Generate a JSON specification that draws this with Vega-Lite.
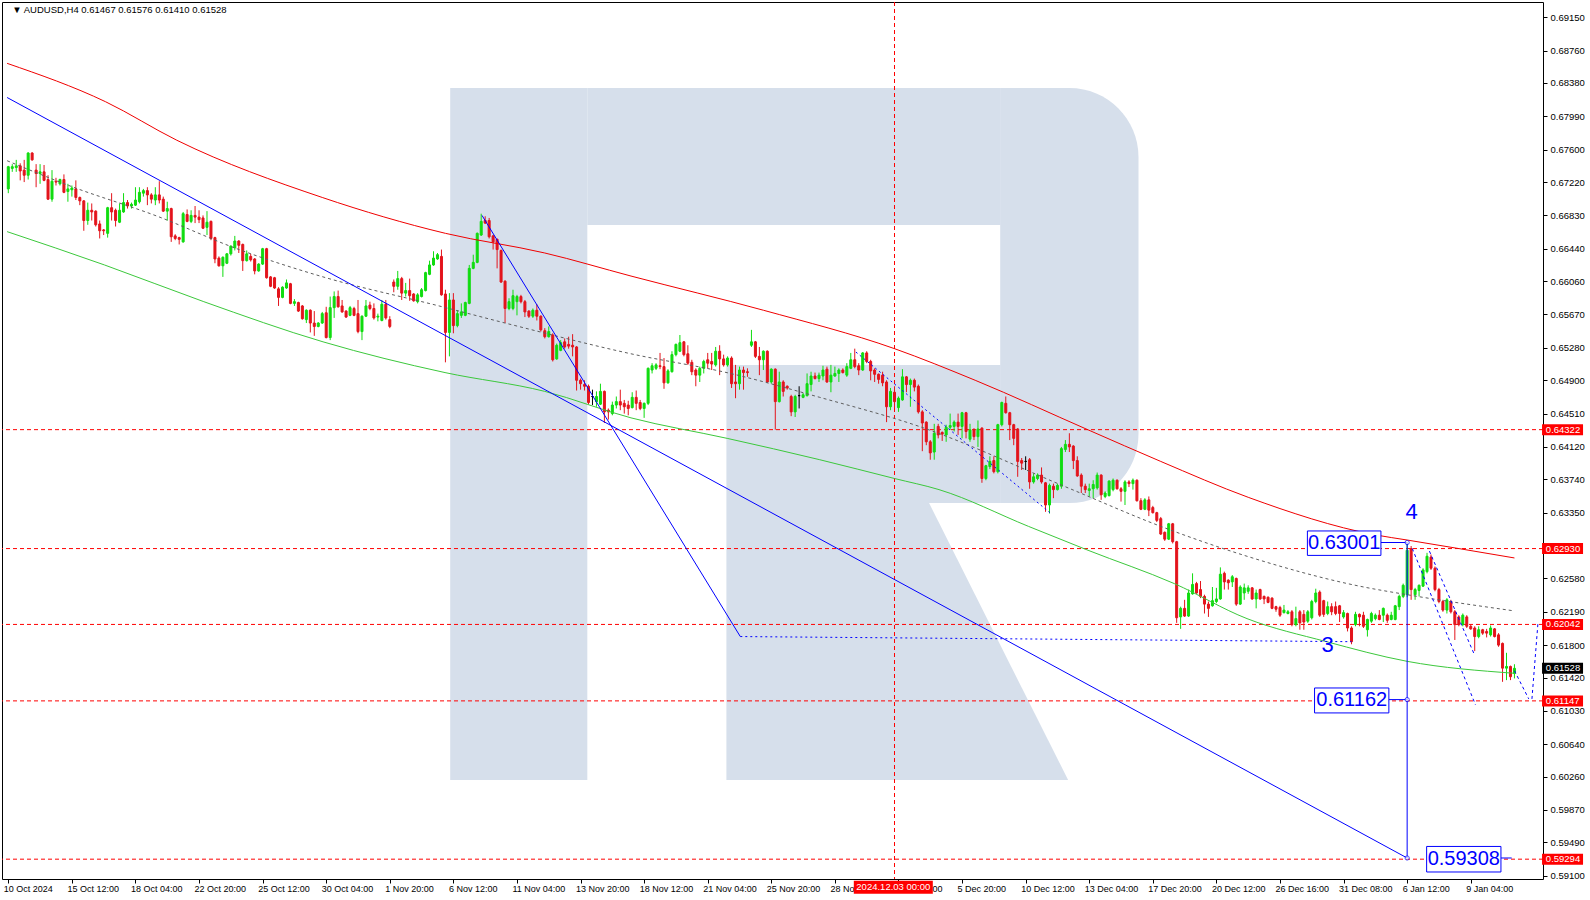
{
"$schema": "https://vega.github.io/schema/vega-lite/v6.json",
"width": 1541, "height": 877,
"autosize": {"type": "none"},
"padding": {"left": 2, "top": 2, "right": 47, "bottom": 21},
"background": "#ffffff",
"view": {"stroke": "#000000", "strokeWidth": 1},
"datasets": {
"candles": [
{"t":0,"o":0.6714,"h":0.6741,"l":0.6709,"c":0.674},
{"t":1,"o":0.6738,"h":0.6743,"l":0.6734,"c":0.674},
{"t":2,"o":0.6739,"h":0.6748,"l":0.6734,"c":0.6741},
{"t":3,"o":0.6741,"h":0.6744,"l":0.6724,"c":0.6735},
{"t":4,"o":0.6736,"h":0.6748,"l":0.6722,"c":0.673},
{"t":5,"o":0.673,"h":0.6757,"l":0.6725,"c":0.6756},
{"t":6,"o":0.6756,"h":0.6757,"l":0.6747,"c":0.6748},
{"t":7,"o":0.6736,"h":0.6743,"l":0.6716,"c":0.6732},
{"t":8,"o":0.6732,"h":0.6743,"l":0.672,"c":0.6734},
{"t":9,"o":0.6734,"h":0.6742,"l":0.6723,"c":0.6724},
{"t":10,"o":0.6725,"h":0.673,"l":0.6701,"c":0.6702},
{"t":11,"o":0.6702,"h":0.6736,"l":0.6699,"c":0.6723},
{"t":12,"o":0.6723,"h":0.6727,"l":0.6718,"c":0.6722},
{"t":13,"o":0.672,"h":0.6726,"l":0.6718,"c":0.6725},
{"t":14,"o":0.6725,"h":0.6731,"l":0.6709,"c":0.671},
{"t":15,"o":0.6711,"h":0.672,"l":0.6699,"c":0.6714},
{"t":16,"o":0.6713,"h":0.6718,"l":0.6705,"c":0.6715},
{"t":17,"o":0.6714,"h":0.6724,"l":0.6701,"c":0.6704},
{"t":18,"o":0.6704,"h":0.6705,"l":0.6695,"c":0.67},
{"t":19,"o":0.67,"h":0.6701,"l":0.6665,"c":0.6677},
{"t":20,"o":0.6677,"h":0.6698,"l":0.6672,"c":0.6689},
{"t":21,"o":0.6689,"h":0.6697,"l":0.6677,"c":0.6687},
{"t":22,"o":0.6688,"h":0.6689,"l":0.667,"c":0.6672},
{"t":23,"o":0.6673,"h":0.6677,"l":0.6656,"c":0.6665},
{"t":24,"o":0.6666,"h":0.6667,"l":0.666,"c":0.6665},
{"t":25,"o":0.6662,"h":0.6693,"l":0.6657,"c":0.6692},
{"t":26,"o":0.6692,"h":0.6709,"l":0.6677,"c":0.6687},
{"t":27,"o":0.6689,"h":0.6691,"l":0.667,"c":0.6677},
{"t":28,"o":0.6675,"h":0.6697,"l":0.6674,"c":0.6689},
{"t":29,"o":0.6687,"h":0.6709,"l":0.6686,"c":0.6698},
{"t":30,"o":0.6698,"h":0.6701,"l":0.6691,"c":0.6694},
{"t":31,"o":0.6694,"h":0.6698,"l":0.6691,"c":0.6696},
{"t":32,"o":0.6695,"h":0.6716,"l":0.6694,"c":0.6701},
{"t":33,"o":0.6699,"h":0.6716,"l":0.6697,"c":0.671},
{"t":34,"o":0.6709,"h":0.6714,"l":0.6705,"c":0.6712},
{"t":35,"o":0.6712,"h":0.6716,"l":0.6695,"c":0.6707},
{"t":36,"o":0.6707,"h":0.6709,"l":0.6697,"c":0.6702},
{"t":37,"o":0.6701,"h":0.6716,"l":0.6695,"c":0.6707},
{"t":38,"o":0.6707,"h":0.6723,"l":0.6697,"c":0.6701},
{"t":39,"o":0.6702,"h":0.6705,"l":0.6687,"c":0.6688},
{"t":40,"o":0.6688,"h":0.6699,"l":0.6677,"c":0.6691},
{"t":41,"o":0.6691,"h":0.6692,"l":0.6652,"c":0.6658},
{"t":42,"o":0.6659,"h":0.6661,"l":0.6654,"c":0.6656},
{"t":43,"o":0.6657,"h":0.6658,"l":0.6649,"c":0.6655},
{"t":44,"o":0.6652,"h":0.6687,"l":0.6651,"c":0.6685},
{"t":45,"o":0.6684,"h":0.669,"l":0.6675,"c":0.6676},
{"t":46,"o":0.6676,"h":0.6689,"l":0.6674,"c":0.6683},
{"t":47,"o":0.6683,"h":0.6694,"l":0.6674,"c":0.6681},
{"t":48,"o":0.6681,"h":0.6689,"l":0.6674,"c":0.6678},
{"t":49,"o":0.668,"h":0.6683,"l":0.6667,"c":0.6668},
{"t":50,"o":0.6669,"h":0.6688,"l":0.666,"c":0.6675},
{"t":51,"o":0.6676,"h":0.6677,"l":0.6654,"c":0.6656},
{"t":52,"o":0.6657,"h":0.6658,"l":0.6627,"c":0.6632},
{"t":53,"o":0.6633,"h":0.6635,"l":0.6623,"c":0.6624},
{"t":54,"o":0.6624,"h":0.6635,"l":0.6611,"c":0.6634},
{"t":55,"o":0.6627,"h":0.6639,"l":0.6626,"c":0.6638},
{"t":56,"o":0.6638,"h":0.6648,"l":0.6636,"c":0.6647},
{"t":57,"o":0.6645,"h":0.6659,"l":0.6642,"c":0.6653},
{"t":58,"o":0.6653,"h":0.6654,"l":0.6639,"c":0.6648},
{"t":59,"o":0.6649,"h":0.665,"l":0.6618,"c":0.663},
{"t":60,"o":0.663,"h":0.6642,"l":0.6629,"c":0.6638},
{"t":61,"o":0.6635,"h":0.6638,"l":0.6629,"c":0.6631},
{"t":62,"o":0.6632,"h":0.6633,"l":0.6614,"c":0.6618},
{"t":63,"o":0.6618,"h":0.6627,"l":0.6617,"c":0.6626},
{"t":64,"o":0.6626,"h":0.6645,"l":0.6625,"c":0.6644},
{"t":65,"o":0.6644,"h":0.6645,"l":0.6609,"c":0.661},
{"t":66,"o":0.6611,"h":0.6612,"l":0.6599,"c":0.66},
{"t":67,"o":0.661,"h":0.6611,"l":0.6597,"c":0.6598},
{"t":68,"o":0.6597,"h":0.6599,"l":0.6577,"c":0.6587},
{"t":69,"o":0.6587,"h":0.66,"l":0.6586,"c":0.6599},
{"t":70,"o":0.6598,"h":0.6608,"l":0.6597,"c":0.6604},
{"t":71,"o":0.6603,"h":0.6604,"l":0.6579,"c":0.658},
{"t":72,"o":0.658,"h":0.6585,"l":0.6577,"c":0.6582},
{"t":73,"o":0.6581,"h":0.6582,"l":0.657,"c":0.6571},
{"t":74,"o":0.6577,"h":0.6578,"l":0.6561,"c":0.6562},
{"t":75,"o":0.6561,"h":0.6573,"l":0.6557,"c":0.6572},
{"t":76,"o":0.6572,"h":0.6573,"l":0.6546,"c":0.6557},
{"t":77,"o":0.6557,"h":0.6571,"l":0.6542,"c":0.6553},
{"t":78,"o":0.6553,"h":0.6558,"l":0.6552,"c":0.6557},
{"t":79,"o":0.6557,"h":0.657,"l":0.6556,"c":0.6568},
{"t":80,"o":0.6569,"h":0.6576,"l":0.6539,"c":0.654},
{"t":81,"o":0.654,"h":0.6588,"l":0.6537,"c":0.6575},
{"t":82,"o":0.6575,"h":0.6594,"l":0.6563,"c":0.6588},
{"t":83,"o":0.6588,"h":0.6595,"l":0.6575,"c":0.6576},
{"t":84,"o":0.6577,"h":0.6584,"l":0.6569,"c":0.657},
{"t":85,"o":0.6571,"h":0.6572,"l":0.6563,"c":0.6564},
{"t":86,"o":0.6566,"h":0.6577,"l":0.6565,"c":0.6575},
{"t":87,"o":0.6574,"h":0.6576,"l":0.6565,"c":0.6566},
{"t":88,"o":0.6568,"h":0.6584,"l":0.6545,"c":0.6547},
{"t":89,"o":0.6547,"h":0.6566,"l":0.6537,"c":0.6565},
{"t":90,"o":0.6565,"h":0.6584,"l":0.6564,"c":0.6577},
{"t":91,"o":0.6578,"h":0.6582,"l":0.6572,"c":0.6574},
{"t":92,"o":0.6574,"h":0.658,"l":0.6561,"c":0.6563},
{"t":93,"o":0.6564,"h":0.6568,"l":0.6559,"c":0.6565},
{"t":94,"o":0.656,"h":0.6584,"l":0.6559,"c":0.6579},
{"t":95,"o":0.6579,"h":0.6584,"l":0.6561,"c":0.6563},
{"t":96,"o":0.6561,"h":0.6565,"l":0.6551,"c":0.6553},
{"t":97,"o":0.6605,"h":0.6608,"l":0.6593,"c":0.66},
{"t":98,"o":0.66,"h":0.6618,"l":0.6596,"c":0.6609},
{"t":99,"o":0.6609,"h":0.6611,"l":0.6584,"c":0.6592},
{"t":100,"o":0.6592,"h":0.6604,"l":0.6588,"c":0.6595},
{"t":101,"o":0.6595,"h":0.6609,"l":0.6583,"c":0.6589},
{"t":102,"o":0.6591,"h":0.6592,"l":0.6582,"c":0.6583},
{"t":103,"o":0.6582,"h":0.6592,"l":0.658,"c":0.659},
{"t":104,"o":0.6588,"h":0.6598,"l":0.6587,"c":0.6596},
{"t":105,"o":0.6595,"h":0.6617,"l":0.6594,"c":0.6616},
{"t":106,"o":0.6614,"h":0.663,"l":0.6613,"c":0.6625},
{"t":107,"o":0.6625,"h":0.6641,"l":0.6624,"c":0.6633},
{"t":108,"o":0.6632,"h":0.6639,"l":0.6631,"c":0.6637},
{"t":109,"o":0.6635,"h":0.6643,"l":0.6589,"c":0.659},
{"t":110,"o":0.6591,"h":0.6596,"l":0.6511,"c":0.6546},
{"t":111,"o":0.6546,"h":0.6592,"l":0.6518,"c":0.6584},
{"t":112,"o":0.6584,"h":0.6592,"l":0.6545,"c":0.6554},
{"t":113,"o":0.6554,"h":0.6572,"l":0.6552,"c":0.6568},
{"t":114,"o":0.6566,"h":0.658,"l":0.6563,"c":0.657},
{"t":115,"o":0.6566,"h":0.6582,"l":0.6565,"c":0.6581},
{"t":116,"o":0.658,"h":0.6625,"l":0.6579,"c":0.6621},
{"t":117,"o":0.6621,"h":0.6637,"l":0.662,"c":0.6628},
{"t":118,"o":0.6628,"h":0.6663,"l":0.6627,"c":0.6662},
{"t":119,"o":0.666,"h":0.6685,"l":0.6659,"c":0.6676},
{"t":120,"o":0.6677,"h":0.6682,"l":0.6673,"c":0.6674},
{"t":121,"o":0.6677,"h":0.668,"l":0.6656,"c":0.6658},
{"t":122,"o":0.6659,"h":0.666,"l":0.6643,"c":0.6652},
{"t":123,"o":0.6655,"h":0.6656,"l":0.6621,"c":0.6643},
{"t":124,"o":0.6642,"h":0.6643,"l":0.6604,"c":0.6605},
{"t":125,"o":0.6606,"h":0.6607,"l":0.6557,"c":0.6574},
{"t":126,"o":0.6574,"h":0.6586,"l":0.6572,"c":0.6582},
{"t":127,"o":0.6574,"h":0.6596,"l":0.6572,"c":0.6589},
{"t":128,"o":0.6582,"h":0.659,"l":0.6566,"c":0.6588},
{"t":129,"o":0.6588,"h":0.659,"l":0.658,"c":0.6582},
{"t":130,"o":0.6582,"h":0.6584,"l":0.6564,"c":0.657},
{"t":131,"o":0.6571,"h":0.6572,"l":0.6563,"c":0.6565},
{"t":132,"o":0.6565,"h":0.6574,"l":0.6563,"c":0.6572},
{"t":133,"o":0.6572,"h":0.6579,"l":0.656,"c":0.6565},
{"t":134,"o":0.6565,"h":0.6566,"l":0.6547,"c":0.6549},
{"t":135,"o":0.6548,"h":0.6551,"l":0.6539,"c":0.6541},
{"t":136,"o":0.6541,"h":0.6553,"l":0.654,"c":0.6547},
{"t":137,"o":0.6543,"h":0.6545,"l":0.6512,"c":0.6514},
{"t":138,"o":0.6515,"h":0.6533,"l":0.6514,"c":0.6531},
{"t":139,"o":0.6525,"h":0.6537,"l":0.6524,"c":0.6534},
{"t":140,"o":0.6535,"h":0.6539,"l":0.6527,"c":0.6529},
{"t":141,"o":0.6532,"h":0.6541,"l":0.6527,"c":0.653},
{"t":142,"o":0.6531,"h":0.6544,"l":0.6518,"c":0.6529},
{"t":143,"o":0.6529,"h":0.653,"l":0.6478,"c":0.649},
{"t":144,"o":0.649,"h":0.6492,"l":0.6479,"c":0.6486},
{"t":145,"o":0.6485,"h":0.649,"l":0.6478,"c":0.6483},
{"t":146,"o":0.6483,"h":0.6485,"l":0.6462,"c":0.6464},
{"t":147,"o":0.6471,"h":0.6479,"l":0.6461,"c":0.6471},
{"t":148,"o":0.6465,"h":0.6477,"l":0.6459,"c":0.6471},
{"t":149,"o":0.6462,"h":0.6486,"l":0.6461,"c":0.6477},
{"t":150,"o":0.6477,"h":0.6478,"l":0.644,"c":0.6453},
{"t":151,"o":0.6455,"h":0.6457,"l":0.6444,"c":0.6453},
{"t":152,"o":0.6451,"h":0.6465,"l":0.6449,"c":0.6461},
{"t":153,"o":0.6461,"h":0.6471,"l":0.6457,"c":0.6465},
{"t":154,"o":0.6465,"h":0.6479,"l":0.6455,"c":0.6461},
{"t":155,"o":0.6463,"h":0.6467,"l":0.6451,"c":0.6459},
{"t":156,"o":0.6461,"h":0.6466,"l":0.6449,"c":0.6457},
{"t":157,"o":0.6458,"h":0.6476,"l":0.6457,"c":0.647},
{"t":158,"o":0.647,"h":0.6478,"l":0.6455,"c":0.6463},
{"t":159,"o":0.6464,"h":0.6467,"l":0.6455,"c":0.6457},
{"t":160,"o":0.6457,"h":0.6464,"l":0.6446,"c":0.6463},
{"t":161,"o":0.6463,"h":0.6505,"l":0.6461,"c":0.6504},
{"t":162,"o":0.6502,"h":0.651,"l":0.6498,"c":0.6507},
{"t":163,"o":0.6504,"h":0.651,"l":0.6502,"c":0.6508},
{"t":164,"o":0.6507,"h":0.6522,"l":0.6503,"c":0.6506},
{"t":165,"o":0.6506,"h":0.6516,"l":0.648,"c":0.6487},
{"t":166,"o":0.6487,"h":0.6503,"l":0.6486,"c":0.6501},
{"t":167,"o":0.65,"h":0.6524,"l":0.6499,"c":0.652},
{"t":168,"o":0.652,"h":0.6533,"l":0.6518,"c":0.6532},
{"t":169,"o":0.6524,"h":0.6543,"l":0.6523,"c":0.6534},
{"t":170,"o":0.6535,"h":0.6536,"l":0.6518,"c":0.652},
{"t":171,"o":0.6521,"h":0.6531,"l":0.6508,"c":0.651},
{"t":172,"o":0.6511,"h":0.6514,"l":0.6496,"c":0.65},
{"t":173,"o":0.6502,"h":0.6504,"l":0.6483,"c":0.6496},
{"t":174,"o":0.6496,"h":0.6506,"l":0.6488,"c":0.6504},
{"t":175,"o":0.6504,"h":0.6514,"l":0.6498,"c":0.6512},
{"t":176,"o":0.6514,"h":0.6522,"l":0.6504,"c":0.651},
{"t":177,"o":0.6512,"h":0.6522,"l":0.6502,"c":0.6509},
{"t":178,"o":0.6508,"h":0.6529,"l":0.6506,"c":0.6524},
{"t":179,"o":0.6524,"h":0.6531,"l":0.6496,"c":0.6515},
{"t":180,"o":0.6515,"h":0.652,"l":0.6506,"c":0.6508},
{"t":181,"o":0.6508,"h":0.6518,"l":0.6506,"c":0.6516},
{"t":182,"o":0.6516,"h":0.6518,"l":0.6481,"c":0.6486},
{"t":183,"o":0.6488,"h":0.6508,"l":0.6469,"c":0.6486},
{"t":184,"o":0.6486,"h":0.6506,"l":0.6479,"c":0.6502},
{"t":185,"o":0.6502,"h":0.6506,"l":0.6479,"c":0.6499},
{"t":186,"o":0.65,"h":0.6504,"l":0.6494,"c":0.6499},
{"t":187,"o":0.6531,"h":0.6549,"l":0.6529,"c":0.6535},
{"t":188,"o":0.6535,"h":0.6536,"l":0.6516,"c":0.6518},
{"t":189,"o":0.6518,"h":0.6529,"l":0.6496,"c":0.6514},
{"t":190,"o":0.6514,"h":0.6525,"l":0.6502,"c":0.6524},
{"t":191,"o":0.6524,"h":0.6525,"l":0.6487,"c":0.6488},
{"t":192,"o":0.6488,"h":0.6504,"l":0.6486,"c":0.6503},
{"t":193,"o":0.6503,"h":0.6504,"l":0.64322,"c":0.6465},
{"t":194,"o":0.6465,"h":0.65,"l":0.6464,"c":0.6488},
{"t":195,"o":0.6488,"h":0.649,"l":0.6471,"c":0.6477},
{"t":196,"o":0.6483,"h":0.6484,"l":0.6479,"c":0.6481},
{"t":197,"o":0.6471,"h":0.6473,"l":0.6448,"c":0.6453},
{"t":198,"o":0.6453,"h":0.6473,"l":0.6447,"c":0.6471},
{"t":199,"o":0.6472,"h":0.6483,"l":0.6457,"c":0.6472},
{"t":200,"o":0.647,"h":0.6475,"l":0.6469,"c":0.6473},
{"t":201,"o":0.6472,"h":0.6498,"l":0.6471,"c":0.6486},
{"t":202,"o":0.6485,"h":0.65,"l":0.6477,"c":0.6495},
{"t":203,"o":0.6495,"h":0.6499,"l":0.6491,"c":0.6492},
{"t":204,"o":0.6492,"h":0.6499,"l":0.6488,"c":0.6496},
{"t":205,"o":0.6495,"h":0.6507,"l":0.649,"c":0.6502},
{"t":206,"o":0.6503,"h":0.6506,"l":0.6487,"c":0.6488},
{"t":207,"o":0.6488,"h":0.6508,"l":0.6476,"c":0.6496},
{"t":208,"o":0.6495,"h":0.6506,"l":0.6494,"c":0.6498},
{"t":209,"o":0.6498,"h":0.6504,"l":0.6488,"c":0.6502},
{"t":210,"o":0.6502,"h":0.6504,"l":0.6498,"c":0.6499},
{"t":211,"o":0.6496,"h":0.651,"l":0.6494,"c":0.6506},
{"t":212,"o":0.6504,"h":0.6522,"l":0.6503,"c":0.6514},
{"t":213,"o":0.6514,"h":0.6527,"l":0.6504,"c":0.6506},
{"t":214,"o":0.6507,"h":0.651,"l":0.6496,"c":0.6502},
{"t":215,"o":0.6502,"h":0.6523,"l":0.6501,"c":0.6522},
{"t":216,"o":0.6522,"h":0.6524,"l":0.651,"c":0.6512},
{"t":217,"o":0.6512,"h":0.6514,"l":0.649,"c":0.6501},
{"t":218,"o":0.6502,"h":0.6504,"l":0.6488,"c":0.6497},
{"t":219,"o":0.6497,"h":0.6498,"l":0.6486,"c":0.6491},
{"t":220,"o":0.6496,"h":0.65,"l":0.6483,"c":0.6487},
{"t":221,"o":0.6488,"h":0.649,"l":0.6441,"c":0.6459},
{"t":222,"o":0.6459,"h":0.6481,"l":0.6455,"c":0.6477},
{"t":223,"o":0.6476,"h":0.6483,"l":0.6457,"c":0.6465},
{"t":224,"o":0.6458,"h":0.6471,"l":0.6453,"c":0.6469},
{"t":225,"o":0.6467,"h":0.6503,"l":0.6466,"c":0.6494},
{"t":226,"o":0.6494,"h":0.6495,"l":0.6476,"c":0.6485},
{"t":227,"o":0.6485,"h":0.6492,"l":0.6459,"c":0.649},
{"t":228,"o":0.649,"h":0.6492,"l":0.6477,"c":0.6482},
{"t":229,"o":0.6483,"h":0.6485,"l":0.6451,"c":0.6453},
{"t":230,"o":0.6453,"h":0.6455,"l":0.6407,"c":0.644},
{"t":231,"o":0.6441,"h":0.6442,"l":0.6414,"c":0.6418},
{"t":232,"o":0.6418,"h":0.642,"l":0.6397,"c":0.6405},
{"t":233,"o":0.6406,"h":0.6439,"l":0.6397,"c":0.6428},
{"t":234,"o":0.6436,"h":0.6439,"l":0.6422,"c":0.6426},
{"t":235,"o":0.6429,"h":0.643,"l":0.6419,"c":0.6427},
{"t":236,"o":0.6426,"h":0.6438,"l":0.6418,"c":0.6435},
{"t":237,"o":0.6435,"h":0.6451,"l":0.6432,"c":0.6437},
{"t":238,"o":0.6436,"h":0.6443,"l":0.643,"c":0.6441},
{"t":239,"o":0.6441,"h":0.6451,"l":0.6426,"c":0.6436},
{"t":240,"o":0.6436,"h":0.6453,"l":0.6422,"c":0.6452},
{"t":241,"o":0.6452,"h":0.6453,"l":0.6422,"c":0.643},
{"t":242,"o":0.6421,"h":0.6439,"l":0.6418,"c":0.6432},
{"t":243,"o":0.6432,"h":0.6434,"l":0.642,"c":0.6424},
{"t":244,"o":0.6424,"h":0.6443,"l":0.6412,"c":0.6433},
{"t":245,"o":0.6434,"h":0.6435,"l":0.637,"c":0.6375},
{"t":246,"o":0.6375,"h":0.6391,"l":0.6373,"c":0.639},
{"t":247,"o":0.6389,"h":0.6401,"l":0.6386,"c":0.6395},
{"t":248,"o":0.6396,"h":0.6401,"l":0.6381,"c":0.6383},
{"t":249,"o":0.6383,"h":0.6439,"l":0.6381,"c":0.6438},
{"t":250,"o":0.6438,"h":0.6465,"l":0.6436,"c":0.6464},
{"t":251,"o":0.6463,"h":0.6471,"l":0.6451,"c":0.6452},
{"t":252,"o":0.6452,"h":0.6453,"l":0.642,"c":0.6438},
{"t":253,"o":0.6438,"h":0.6439,"l":0.6414,"c":0.6422},
{"t":254,"o":0.6433,"h":0.6434,"l":0.6377,"c":0.6395},
{"t":255,"o":0.6396,"h":0.6399,"l":0.6385,"c":0.6393},
{"t":256,"o":0.6395,"h":0.6401,"l":0.6385,"c":0.6395},
{"t":257,"o":0.6397,"h":0.6399,"l":0.6363,"c":0.6371},
{"t":258,"o":0.6371,"h":0.6381,"l":0.6369,"c":0.6377},
{"t":259,"o":0.6375,"h":0.6381,"l":0.6373,"c":0.6379},
{"t":260,"o":0.6379,"h":0.6388,"l":0.6369,"c":0.6371},
{"t":261,"o":0.637,"h":0.6371,"l":0.6336,"c":0.6344},
{"t":262,"o":0.6344,"h":0.6369,"l":0.6334,"c":0.6367},
{"t":263,"o":0.6366,"h":0.6369,"l":0.6352,"c":0.6362},
{"t":264,"o":0.6362,"h":0.6369,"l":0.6361,"c":0.6367},
{"t":265,"o":0.6366,"h":0.6412,"l":0.6363,"c":0.641},
{"t":266,"o":0.6409,"h":0.642,"l":0.6406,"c":0.6415},
{"t":267,"o":0.6415,"h":0.6428,"l":0.6406,"c":0.6412},
{"t":268,"o":0.6413,"h":0.6414,"l":0.6386,"c":0.6396},
{"t":269,"o":0.6396,"h":0.6401,"l":0.6377,"c":0.6378},
{"t":270,"o":0.6379,"h":0.6381,"l":0.6358,"c":0.6366},
{"t":271,"o":0.6366,"h":0.6369,"l":0.6358,"c":0.6362},
{"t":272,"o":0.6361,"h":0.6369,"l":0.6354,"c":0.6363},
{"t":273,"o":0.6363,"h":0.6373,"l":0.6352,"c":0.6368},
{"t":274,"o":0.6364,"h":0.6382,"l":0.6362,"c":0.6379},
{"t":275,"o":0.6379,"h":0.638,"l":0.635,"c":0.6356},
{"t":276,"o":0.6354,"h":0.636,"l":0.6352,"c":0.6358},
{"t":277,"o":0.6355,"h":0.6373,"l":0.6354,"c":0.6372},
{"t":278,"o":0.6362,"h":0.6375,"l":0.636,"c":0.6373},
{"t":279,"o":0.6373,"h":0.6374,"l":0.6362,"c":0.6363},
{"t":280,"o":0.6363,"h":0.6365,"l":0.6348,"c":0.636},
{"t":281,"o":0.636,"h":0.6373,"l":0.6344,"c":0.6371},
{"t":282,"o":0.6371,"h":0.6373,"l":0.6365,"c":0.6369},
{"t":283,"o":0.6369,"h":0.6375,"l":0.6362,"c":0.6373},
{"t":284,"o":0.6373,"h":0.6374,"l":0.6348,"c":0.6349},
{"t":285,"o":0.6349,"h":0.6352,"l":0.6338,"c":0.6339},
{"t":286,"o":0.6339,"h":0.6352,"l":0.6338,"c":0.635},
{"t":287,"o":0.635,"h":0.6354,"l":0.6331,"c":0.6338},
{"t":288,"o":0.6341,"h":0.6343,"l":0.6334,"c":0.6335},
{"t":289,"o":0.6335,"h":0.6336,"l":0.6324,"c":0.6326},
{"t":290,"o":0.6328,"h":0.633,"l":0.6309,"c":0.631},
{"t":291,"o":0.6312,"h":0.6313,"l":0.6302,"c":0.6304},
{"t":292,"o":0.6304,"h":0.6323,"l":0.6303,"c":0.6322},
{"t":293,"o":0.6322,"h":0.6323,"l":0.6299,"c":0.6301},
{"t":294,"o":0.6301,"h":0.6302,"l":0.6206,"c":0.6212},
{"t":295,"o":0.6213,"h":0.6225,"l":0.6199,"c":0.6223},
{"t":296,"o":0.6223,"h":0.6233,"l":0.6213,"c":0.6214},
{"t":297,"o":0.6214,"h":0.6245,"l":0.6213,"c":0.6241},
{"t":298,"o":0.624,"h":0.6264,"l":0.6239,"c":0.6251},
{"t":299,"o":0.6252,"h":0.6254,"l":0.624,"c":0.6241},
{"t":300,"o":0.6245,"h":0.6255,"l":0.6235,"c":0.6237},
{"t":301,"o":0.6237,"h":0.6239,"l":0.6217,"c":0.6228},
{"t":302,"o":0.6228,"h":0.6231,"l":0.6213,"c":0.6223},
{"t":303,"o":0.6226,"h":0.6248,"l":0.6225,"c":0.6232},
{"t":304,"o":0.6231,"h":0.6247,"l":0.6229,"c":0.6234},
{"t":305,"o":0.6234,"h":0.6271,"l":0.6233,"c":0.6263},
{"t":306,"o":0.6264,"h":0.6266,"l":0.6245,"c":0.6254},
{"t":307,"o":0.6256,"h":0.6257,"l":0.6245,"c":0.6253},
{"t":308,"o":0.6254,"h":0.6262,"l":0.6248,"c":0.626},
{"t":309,"o":0.6258,"h":0.6259,"l":0.6226,"c":0.6228},
{"t":310,"o":0.6228,"h":0.625,"l":0.6227,"c":0.6248},
{"t":311,"o":0.6241,"h":0.6252,"l":0.6233,"c":0.6247},
{"t":312,"o":0.6243,"h":0.625,"l":0.624,"c":0.6247},
{"t":313,"o":0.6247,"h":0.6248,"l":0.6233,"c":0.6234},
{"t":314,"o":0.6234,"h":0.6245,"l":0.6223,"c":0.6241},
{"t":315,"o":0.6245,"h":0.6246,"l":0.6233,"c":0.6234},
{"t":316,"o":0.6237,"h":0.6238,"l":0.6228,"c":0.6234},
{"t":317,"o":0.6236,"h":0.6237,"l":0.6229,"c":0.623},
{"t":318,"o":0.6235,"h":0.6236,"l":0.6222,"c":0.6223},
{"t":319,"o":0.6225,"h":0.6226,"l":0.6219,"c":0.6222},
{"t":320,"o":0.6224,"h":0.6226,"l":0.6213,"c":0.6215},
{"t":321,"o":0.6218,"h":0.6227,"l":0.6217,"c":0.6221},
{"t":322,"o":0.6217,"h":0.6221,"l":0.6216,"c":0.6219},
{"t":323,"o":0.6219,"h":0.6221,"l":0.6202,"c":0.6204},
{"t":324,"o":0.6204,"h":0.6225,"l":0.6202,"c":0.6211},
{"t":325,"o":0.6219,"h":0.6221,"l":0.6198,"c":0.6206},
{"t":326,"o":0.6216,"h":0.6221,"l":0.6198,"c":0.6207},
{"t":327,"o":0.6208,"h":0.6221,"l":0.6206,"c":0.6219},
{"t":328,"o":0.6212,"h":0.6233,"l":0.621,"c":0.6231},
{"t":329,"o":0.6231,"h":0.6246,"l":0.6229,"c":0.6241},
{"t":330,"o":0.6242,"h":0.6244,"l":0.6213,"c":0.6215},
{"t":331,"o":0.6232,"h":0.6233,"l":0.6213,"c":0.6216},
{"t":332,"o":0.6217,"h":0.6231,"l":0.6215,"c":0.6225},
{"t":333,"o":0.6225,"h":0.6229,"l":0.6215,"c":0.6219},
{"t":334,"o":0.6225,"h":0.6231,"l":0.6215,"c":0.6217},
{"t":335,"o":0.6226,"h":0.6227,"l":0.6207,"c":0.6217},
{"t":336,"o":0.6213,"h":0.6221,"l":0.6211,"c":0.6218},
{"t":337,"o":0.6217,"h":0.6218,"l":0.6196,"c":0.62},
{"t":338,"o":0.62,"h":0.6202,"l":0.6181,"c":0.6184},
{"t":339,"o":0.6204,"h":0.6219,"l":0.6202,"c":0.6216},
{"t":340,"o":0.6216,"h":0.6217,"l":0.6202,"c":0.6213},
{"t":341,"o":0.6215,"h":0.6219,"l":0.62,"c":0.6202},
{"t":342,"o":0.6198,"h":0.6211,"l":0.619,"c":0.621},
{"t":343,"o":0.6208,"h":0.6219,"l":0.6206,"c":0.6217},
{"t":344,"o":0.6211,"h":0.6217,"l":0.6209,"c":0.6215},
{"t":345,"o":0.6215,"h":0.6221,"l":0.6209,"c":0.621},
{"t":346,"o":0.6215,"h":0.6224,"l":0.6207,"c":0.6223},
{"t":347,"o":0.6215,"h":0.6217,"l":0.6206,"c":0.6209},
{"t":348,"o":0.621,"h":0.6219,"l":0.6209,"c":0.6215},
{"t":349,"o":0.621,"h":0.6227,"l":0.6209,"c":0.6226},
{"t":350,"o":0.6225,"h":0.6239,"l":0.6221,"c":0.6237},
{"t":351,"o":0.6237,"h":0.6252,"l":0.6235,"c":0.625},
{"t":352,"o":0.6239,"h":0.63001,"l":0.6236,"c":0.6291},
{"t":353,"o":0.6293,"h":0.6296,"l":0.6233,"c":0.6245},
{"t":354,"o":0.6239,"h":0.6247,"l":0.6233,"c":0.6245},
{"t":355,"o":0.6244,"h":0.6251,"l":0.6237,"c":0.625},
{"t":356,"o":0.6249,"h":0.627,"l":0.6248,"c":0.6268},
{"t":357,"o":0.6266,"h":0.6288,"l":0.6264,"c":0.6284},
{"t":358,"o":0.6283,"h":0.6286,"l":0.6268,"c":0.627},
{"t":359,"o":0.627,"h":0.6272,"l":0.6243,"c":0.6245},
{"t":360,"o":0.6245,"h":0.6247,"l":0.6229,"c":0.6231},
{"t":361,"o":0.6231,"h":0.6233,"l":0.6219,"c":0.6221},
{"t":362,"o":0.6221,"h":0.6235,"l":0.6217,"c":0.6233},
{"t":363,"o":0.6231,"h":0.6233,"l":0.6217,"c":0.6219},
{"t":364,"o":0.6219,"h":0.6221,"l":0.6186,"c":0.6204},
{"t":365,"o":0.6213,"h":0.6215,"l":0.6202,"c":0.6204},
{"t":366,"o":0.6204,"h":0.6217,"l":0.6202,"c":0.6215},
{"t":367,"o":0.6213,"h":0.6215,"l":0.62,"c":0.6202},
{"t":368,"o":0.6202,"h":0.6204,"l":0.6198,"c":0.6199},
{"t":369,"o":0.62,"h":0.6202,"l":0.6173,"c":0.619},
{"t":370,"o":0.619,"h":0.6202,"l":0.6188,"c":0.6198},
{"t":371,"o":0.6198,"h":0.6199,"l":0.6192,"c":0.6194},
{"t":372,"o":0.6196,"h":0.6199,"l":0.6189,"c":0.6194},
{"t":373,"o":0.6192,"h":0.6203,"l":0.619,"c":0.62},
{"t":374,"o":0.6199,"h":0.62,"l":0.6189,"c":0.619},
{"t":375,"o":0.6192,"h":0.6194,"l":0.6178,"c":0.618},
{"t":376,"o":0.6182,"h":0.6183,"l":0.6137,"c":0.6153},
{"t":377,"o":0.6153,"h":0.6171,"l":0.6139,"c":0.6155},
{"t":378,"o":0.6155,"h":0.6156,"l":0.6139,"c":0.6143},
{"t":379,"o":0.61467,"h":0.61576,"l":0.6141,"c":0.61528}
],
"ma_red": [
{"t":-0.3,"v":0.6861},{"t":24.5,"v":0.6816},{"t":42.4,"v":0.6771},{"t":79,"v":0.6704},{"t":110,"v":0.6662},{"t":135,"v":0.6639},{"t":156.7,"v":0.6612},{"t":190,"v":0.6572},{"t":223,"v":0.6527},{"t":243.3,"v":0.649},{"t":271.7,"v":0.6432},{"t":290,"v":0.6395},{"t":312,"v":0.6353},{"t":344,"v":0.6309},{"t":352,"v":0.6303},{"t":365,"v":0.6293},{"t":379,"v":0.6282}
],
"ma_green": [
{"t":-0.3,"v":0.6664},{"t":24.2,"v":0.6625},{"t":49.2,"v":0.6582},{"t":79.2,"v":0.6535},{"t":109.9,"v":0.6499},{"t":135,"v":0.6477},{"t":156.7,"v":0.6446},{"t":180.9,"v":0.6422},{"t":204.2,"v":0.6397},{"t":223,"v":0.6375},{"t":234.2,"v":0.6362},{"t":256.7,"v":0.6319},{"t":271.7,"v":0.6291},{"t":293.4,"v":0.6252},{"t":311.7,"v":0.6211},{"t":331.7,"v":0.6184},{"t":352,"v":0.6161},{"t":379,"v":0.6147}
],
"ma_gray": [
{"t":-0.3,"v":0.6747},{"t":15.8,"v":0.6717},{"t":37.5,"v":0.6682},{"t":57.5,"v":0.6644},{"t":79.2,"v":0.6611},{"t":108.4,"v":0.6577},{"t":126.7,"v":0.6555},{"t":156.7,"v":0.6521},{"t":181.7,"v":0.6498},{"t":204.2,"v":0.647},{"t":229.2,"v":0.6436},{"t":266.7,"v":0.6364},{"t":290,"v":0.6319},{"t":311.7,"v":0.6284},{"t":340,"v":0.6249},{"t":352,"v":0.6239},{"t":379,"v":0.622}
],
"trend": [
{"x1":-0.3,"y1":0.6821,"x2":352,"y2":0.59308},
{"x1":119.2,"y1":0.6683,"x2":184.2,"y2":0.619},
{"x1":352,"y1":0.63001,"x2":352,"y2":0.59308},
{"x1":345.4,"y1":0.63001,"x2":352,"y2":0.63001},
{"x1":347.4,"y1":0.61162,"x2":352,"y2":0.61162},
{"x1":375.6,"y1":0.59308,"x2":378.3,"y2":0.59308}
],
"dotted": [
{"x1":213.3,"y1":0.6523,"x2":262.1,"y2":0.6335},
{"x1":184.2,"y1":0.619,"x2":338,"y2":0.6184}
],
"proj": [
{"x1":353.3,"y1":0.6293,"x2":369.2,"y2":0.611},
{"x1":357.6,"y1":0.629,"x2":369,"y2":0.6168},
{"x1":379,"y1":0.615,"x2":382.6,"y2":0.6117},
{"x1":383.4,"y1":0.6117,"x2":384.9,"y2":0.6205}
],
"marks": [
{"x":352,"y":0.63001},{"x":352,"y":0.61162},{"x":352,"y":0.59308}
],
"boxes": [
{"label":"0.63001","x1":326.9,"x2":345.4,"lo":0.6285,"hi":0.63136,"xm":336.15,"ym":0.62993},
{"label":"0.61162","x1":328.7,"x2":347.4,"lo":0.61006,"hi":0.61298,"xm":338.05,"ym":0.61152},
{"label":"0.59308","x1":356.9,"x2":375.6,"lo":0.59144,"hi":0.59443,"xm":366.25,"ym":0.59293}
],
"waves": [
{"label":"4","x":353.1,"y":0.6336},
{"label":"3","x":332,"y":0.61806}
],
"levels": [
{"p":0.64322},{"p":0.6293},{"p":0.62042},{"p":0.61147},{"p":0.59294}
],
"logo": [
{"x1":111.2,"x2":145.7,"y1":0.6022,"y2":0.68321},
{"x1":145.7,"x2":249.7,"y1":0.66717,"y2":0.68321},
{"x1":180.7,"x2":249.7,"y1":0.63463,"y2":0.65078}
],
"leg": [
{"x":180.7,"top":0.63463,"bot":0.6022},
{"x":231.7,"top":0.63463,"bot":0.6022},
{"x":266.7,"top":0.6022,"bot":0.6022}
]
},
"resolve": {"axis": {"x": "independent", "y": "independent"}},
"layer": [
{"data":{"name":"logo"},"mark":{"type":"rect","color":"#d6dfeb"},
 "encoding":{
  "x":{"field":"x1","type":"quantitative","scale":{"domain":[-0.325,384.925],"nice":false,"zero":false},
   "axis":{"orient":"bottom","title":null,"values":[0,16,32,48,64,80,96,112,128,144,160,176,192,208,224,240,256,272,288,304,320,336,352,368],
    "labelExpr":"['10 Oct 2024','15 Oct 12:00','18 Oct 04:00','22 Oct 20:00','25 Oct 12:00','30 Oct 04:00','1 Nov 20:00','6 Nov 12:00','11 Nov 04:00','13 Nov 20:00','18 Nov 12:00','21 Nov 04:00','25 Nov 20:00','28 Nov 12:00','3 Dec 04:00','5 Dec 20:00','10 Dec 12:00','13 Dec 04:00','17 Dec 20:00','20 Dec 12:00','26 Dec 16:00','31 Dec 08:00','6 Jan 12:00','9 Jan 04:00'][round(datum.value/16)]",
    "labelAlign":"left","labelBaseline":"top","labelPadding":1,"labelOffset":-5,"tickSize":4,"tickColor":"#000000","labelColor":"#000000","labelFont":"Liberation Sans","labelFontSize":9,"labelOverlap":false,"labelFlush":false,"domain":false,"grid":false}},
  "x2":{"field":"x2"},
  "y":{"field":"y1","type":"quantitative","scale":{"domain":[0.59062,0.69328],"nice":false,"zero":false},
   "axis":{"orient":"right","title":null,"values":[0.6915,0.6876,0.6838,0.6799,0.676,0.6722,0.6683,0.6644,0.6606,0.6567,0.6528,0.649,0.6451,0.6412,0.6374,0.6335,0.6258,0.6219,0.618,0.6142,0.6103,0.6064,0.6026,0.5987,0.5949,0.591],
    "format":".5f","tickSize":4,"tickColor":"#000000","labelColor":"#000000","labelPadding":3,"labelFont":"Liberation Sans","labelFontSize":9.5,"labelOverlap":false,"labelFlush":false,"labelBaseline":"middle","domain":false,"grid":false}},
  "y2":{"field":"y2"}}},
{"data":{"values":[{}]},"mark":{"type":"rect","color":"#d6dfeb","cornerRadiusTopRight":128,"cornerRadiusBottomRight":125},
 "encoding":{"x":{"datum":249.6,"type":"quantitative","scale":{"domain":[-0.325,384.925],"nice":false,"zero":false},"axis":null},"x2":{"datum":284.4},
 "y":{"datum":0.63463,"type":"quantitative","scale":{"domain":[0.59062,0.69328],"nice":false,"zero":false},"axis":null},"y2":{"datum":0.68321}}},
{"data":{"name":"leg"},"mark":{"type":"area","color":"#d6dfeb","orient":"vertical"},
 "encoding":{"x":{"field":"x","type":"quantitative","scale":{"domain":[-0.325,384.925],"nice":false,"zero":false},"axis":null},
 "y":{"field":"top","type":"quantitative","scale":{"domain":[0.59062,0.69328],"nice":false,"zero":false},"axis":null},"y2":{"field":"bot"}}},
{"data":{"name":"levels"},"mark":{"type":"rule","color":"#ff0000","strokeWidth":1,"strokeDash":[4,3]},
 "encoding":{"y":{"field":"p","type":"quantitative","scale":{"domain":[0.59062,0.69328],"nice":false,"zero":false},"axis":null}}},
{"data":{"values":[{}]},"mark":{"type":"rule","color":"#ff0000","strokeWidth":1,"strokeDash":[4,3]},
 "encoding":{"x":{"datum":223,"type":"quantitative","scale":{"domain":[-0.325,384.925],"nice":false,"zero":false},"axis":null}}},
{"data":{"name":"candles"},"mark":{"type":"rule","strokeWidth":1},
 "encoding":{
  "x":{"field":"t","type":"quantitative","scale":{"domain":[-0.325,384.925],"nice":false,"zero":false},"axis":null},
  "y":{"field":"l","type":"quantitative","scale":{"domain":[0.59062,0.69328],"nice":false,"zero":false},"axis":null},
  "y2":{"field":"h"},
  "color":{"condition":[{"test":"datum.c == datum.o","value":"#000000"},{"test":"datum.c > datum.o","value":"#10dc10"}],"value":"#e3141c"}}},
{"data":{"name":"candles"},"mark":{"type":"bar","width":2,"strokeWidth":1},
 "encoding":{
  "x":{"field":"t","type":"quantitative","scale":{"domain":[-0.325,384.925],"nice":false,"zero":false},"axis":null},
  "y":{"field":"o","type":"quantitative","scale":{"domain":[0.59062,0.69328],"nice":false,"zero":false},"axis":null},
  "y2":{"field":"c"},
  "fill":{"condition":[{"test":"datum.c == datum.o","value":"#000000"},{"test":"datum.c > datum.o","value":"#10dc10"}],"value":"#e3141c"},
  "stroke":{"condition":[{"test":"datum.c == datum.o","value":"#000000"},{"test":"datum.c > datum.o","value":"#10dc10"}],"value":"#e3141c"}}},
{"data":{"name":"ma_gray"},"mark":{"type":"line","color":"#5e5e5e","strokeWidth":1,"strokeDash":[3,3],"interpolate":"monotone"},
 "encoding":{"x":{"field":"t","type":"quantitative","scale":{"domain":[-0.325,384.925],"nice":false,"zero":false},"axis":null},
 "y":{"field":"v","type":"quantitative","scale":{"domain":[0.59062,0.69328],"nice":false,"zero":false},"axis":null}}},
{"data":{"name":"ma_green"},"mark":{"type":"line","color":"#3cc83c","strokeWidth":1,"interpolate":"monotone"},
 "encoding":{"x":{"field":"t","type":"quantitative","scale":{"domain":[-0.325,384.925],"nice":false,"zero":false},"axis":null},
 "y":{"field":"v","type":"quantitative","scale":{"domain":[0.59062,0.69328],"nice":false,"zero":false},"axis":null}}},
{"data":{"name":"ma_red"},"mark":{"type":"line","color":"#f00000","strokeWidth":1,"interpolate":"monotone"},
 "encoding":{"x":{"field":"t","type":"quantitative","scale":{"domain":[-0.325,384.925],"nice":false,"zero":false},"axis":null},
 "y":{"field":"v","type":"quantitative","scale":{"domain":[0.59062,0.69328],"nice":false,"zero":false},"axis":null}}},
{"data":{"name":"trend"},"mark":{"type":"rule","color":"#0000ff","strokeWidth":1},
 "encoding":{"x":{"field":"x1","type":"quantitative","scale":{"domain":[-0.325,384.925],"nice":false,"zero":false},"axis":null},"x2":{"field":"x2"},
 "y":{"field":"y1","type":"quantitative","scale":{"domain":[0.59062,0.69328],"nice":false,"zero":false},"axis":null},"y2":{"field":"y2"}}},
{"data":{"name":"dotted"},"mark":{"type":"rule","color":"#0000ff","strokeWidth":1,"strokeDash":[2,3]},
 "encoding":{"x":{"field":"x1","type":"quantitative","scale":{"domain":[-0.325,384.925],"nice":false,"zero":false},"axis":null},"x2":{"field":"x2"},
 "y":{"field":"y1","type":"quantitative","scale":{"domain":[0.59062,0.69328],"nice":false,"zero":false},"axis":null},"y2":{"field":"y2"}}},
{"data":{"name":"proj"},"mark":{"type":"rule","color":"#0000ff","strokeWidth":1,"strokeDash":[3,3]},
 "encoding":{"x":{"field":"x1","type":"quantitative","scale":{"domain":[-0.325,384.925],"nice":false,"zero":false},"axis":null},"x2":{"field":"x2"},
 "y":{"field":"y1","type":"quantitative","scale":{"domain":[0.59062,0.69328],"nice":false,"zero":false},"axis":null},"y2":{"field":"y2"}}},
{"data":{"name":"marks"},"mark":{"type":"point","shape":"circle","size":18,"filled":true,"fill":"#ffffff","stroke":"#0000ff","strokeWidth":1},
 "encoding":{"x":{"field":"x","type":"quantitative","scale":{"domain":[-0.325,384.925],"nice":false,"zero":false},"axis":null},
 "y":{"field":"y","type":"quantitative","scale":{"domain":[0.59062,0.69328],"nice":false,"zero":false},"axis":null}}},
{"data":{"name":"boxes"},"mark":{"type":"rect","fill":"#ffffff","stroke":"#0000ff","strokeWidth":1},
 "encoding":{"x":{"field":"x1","type":"quantitative","scale":{"domain":[-0.325,384.925],"nice":false,"zero":false},"axis":null},"x2":{"field":"x2"},
 "y":{"field":"lo","type":"quantitative","scale":{"domain":[0.59062,0.69328],"nice":false,"zero":false},"axis":null},"y2":{"field":"hi"}}},
{"data":{"name":"boxes"},"mark":{"type":"text","color":"#0000ff","font":"Liberation Sans","fontSize":20,"align":"center","baseline":"middle"},
 "encoding":{"x":{"field":"xm","type":"quantitative","scale":{"domain":[-0.325,384.925],"nice":false,"zero":false},"axis":null},
 "y":{"field":"ym","type":"quantitative","scale":{"domain":[0.59062,0.69328],"nice":false,"zero":false},"axis":null},"text":{"field":"label"}}},
{"data":{"name":"waves"},"mark":{"type":"text","color":"#0000ff","font":"Liberation Sans","fontSize":22,"align":"center","baseline":"middle"},
 "encoding":{"x":{"field":"x","type":"quantitative","scale":{"domain":[-0.325,384.925],"nice":false,"zero":false},"axis":null},
 "y":{"field":"y","type":"quantitative","scale":{"domain":[0.59062,0.69328],"nice":false,"zero":false},"axis":null},"text":{"field":"label"}}},
{"data":{"name":"levels"},"mark":{"type":"tick","orient":"horizontal","color":"#ff0000","size":41,"thickness":11,"opacity":1},
 "encoding":{"x":{"datum":391.1,"type":"quantitative","scale":{"domain":[-0.325,384.925],"nice":false,"zero":false},"axis":null},
 "y":{"field":"p","type":"quantitative","scale":{"domain":[0.59062,0.69328],"nice":false,"zero":false},"axis":null}}},
{"data":{"name":"levels"},"mark":{"type":"text","color":"#ffffff","font":"Liberation Sans","fontSize":9.5,"align":"left","baseline":"middle"},
 "encoding":{"x":{"datum":386.9,"type":"quantitative","scale":{"domain":[-0.325,384.925],"nice":false,"zero":false},"axis":null},
 "y":{"field":"p","type":"quantitative","scale":{"domain":[0.59062,0.69328],"nice":false,"zero":false},"axis":null},"text":{"field":"p","format":".5f"}}},
{"data":{"values":[{"p":0.61528}]},"mark":{"type":"tick","orient":"horizontal","color":"#000000","size":41,"thickness":11,"opacity":1},
 "encoding":{"x":{"datum":391.1,"type":"quantitative","scale":{"domain":[-0.325,384.925],"nice":false,"zero":false},"axis":null},
 "y":{"field":"p","type":"quantitative","scale":{"domain":[0.59062,0.69328],"nice":false,"zero":false},"axis":null}}},
{"data":{"values":[{"p":0.61528}]},"mark":{"type":"text","color":"#ffffff","font":"Liberation Sans","fontSize":9.5,"align":"left","baseline":"middle"},
 "encoding":{"x":{"datum":386.9,"type":"quantitative","scale":{"domain":[-0.325,384.925],"nice":false,"zero":false},"axis":null},
 "y":{"field":"p","type":"quantitative","scale":{"domain":[0.59062,0.69328],"nice":false,"zero":false},"axis":null},"text":{"field":"p","format":".5f"}}},
{"data":{"values":[{"label":"2024.12.03 00:00"}]},"mark":{"type":"tick","orient":"horizontal","color":"#ff0000","size":79,"thickness":13,"opacity":1},
 "encoding":{"x":{"datum":222.7,"type":"quantitative","scale":{"domain":[-0.325,384.925],"nice":false,"zero":false},"axis":null},
 "y":{"datum":0.58966,"type":"quantitative","scale":{"domain":[0.59062,0.69328],"nice":false,"zero":false},"axis":null}}},
{"data":{"values":[{"label":"2024.12.03 00:00"}]},"mark":{"type":"text","color":"#ffffff","font":"Liberation Sans","fontSize":9.5,"align":"center","baseline":"middle"},
 "encoding":{"x":{"datum":222.7,"type":"quantitative","scale":{"domain":[-0.325,384.925],"nice":false,"zero":false},"axis":null},
 "y":{"datum":0.58966,"type":"quantitative","scale":{"domain":[0.59062,0.69328],"nice":false,"zero":false},"axis":null},"text":{"field":"label"}}},
{"data":{"values":[{"label":"▼ AUDUSD,H4  0.61467 0.61576 0.61410 0.61528"}]},"mark":{"type":"text","color":"#000000","font":"Liberation Sans","fontSize":9.5,"align":"left","baseline":"middle"},
 "encoding":{"x":{"datum":1.0,"type":"quantitative","scale":{"domain":[-0.325,384.925],"nice":false,"zero":false},"axis":null},
 "y":{"datum":0.69234,"type":"quantitative","scale":{"domain":[0.59062,0.69328],"nice":false,"zero":false},"axis":null},"text":{"field":"label"}}}
]
}
